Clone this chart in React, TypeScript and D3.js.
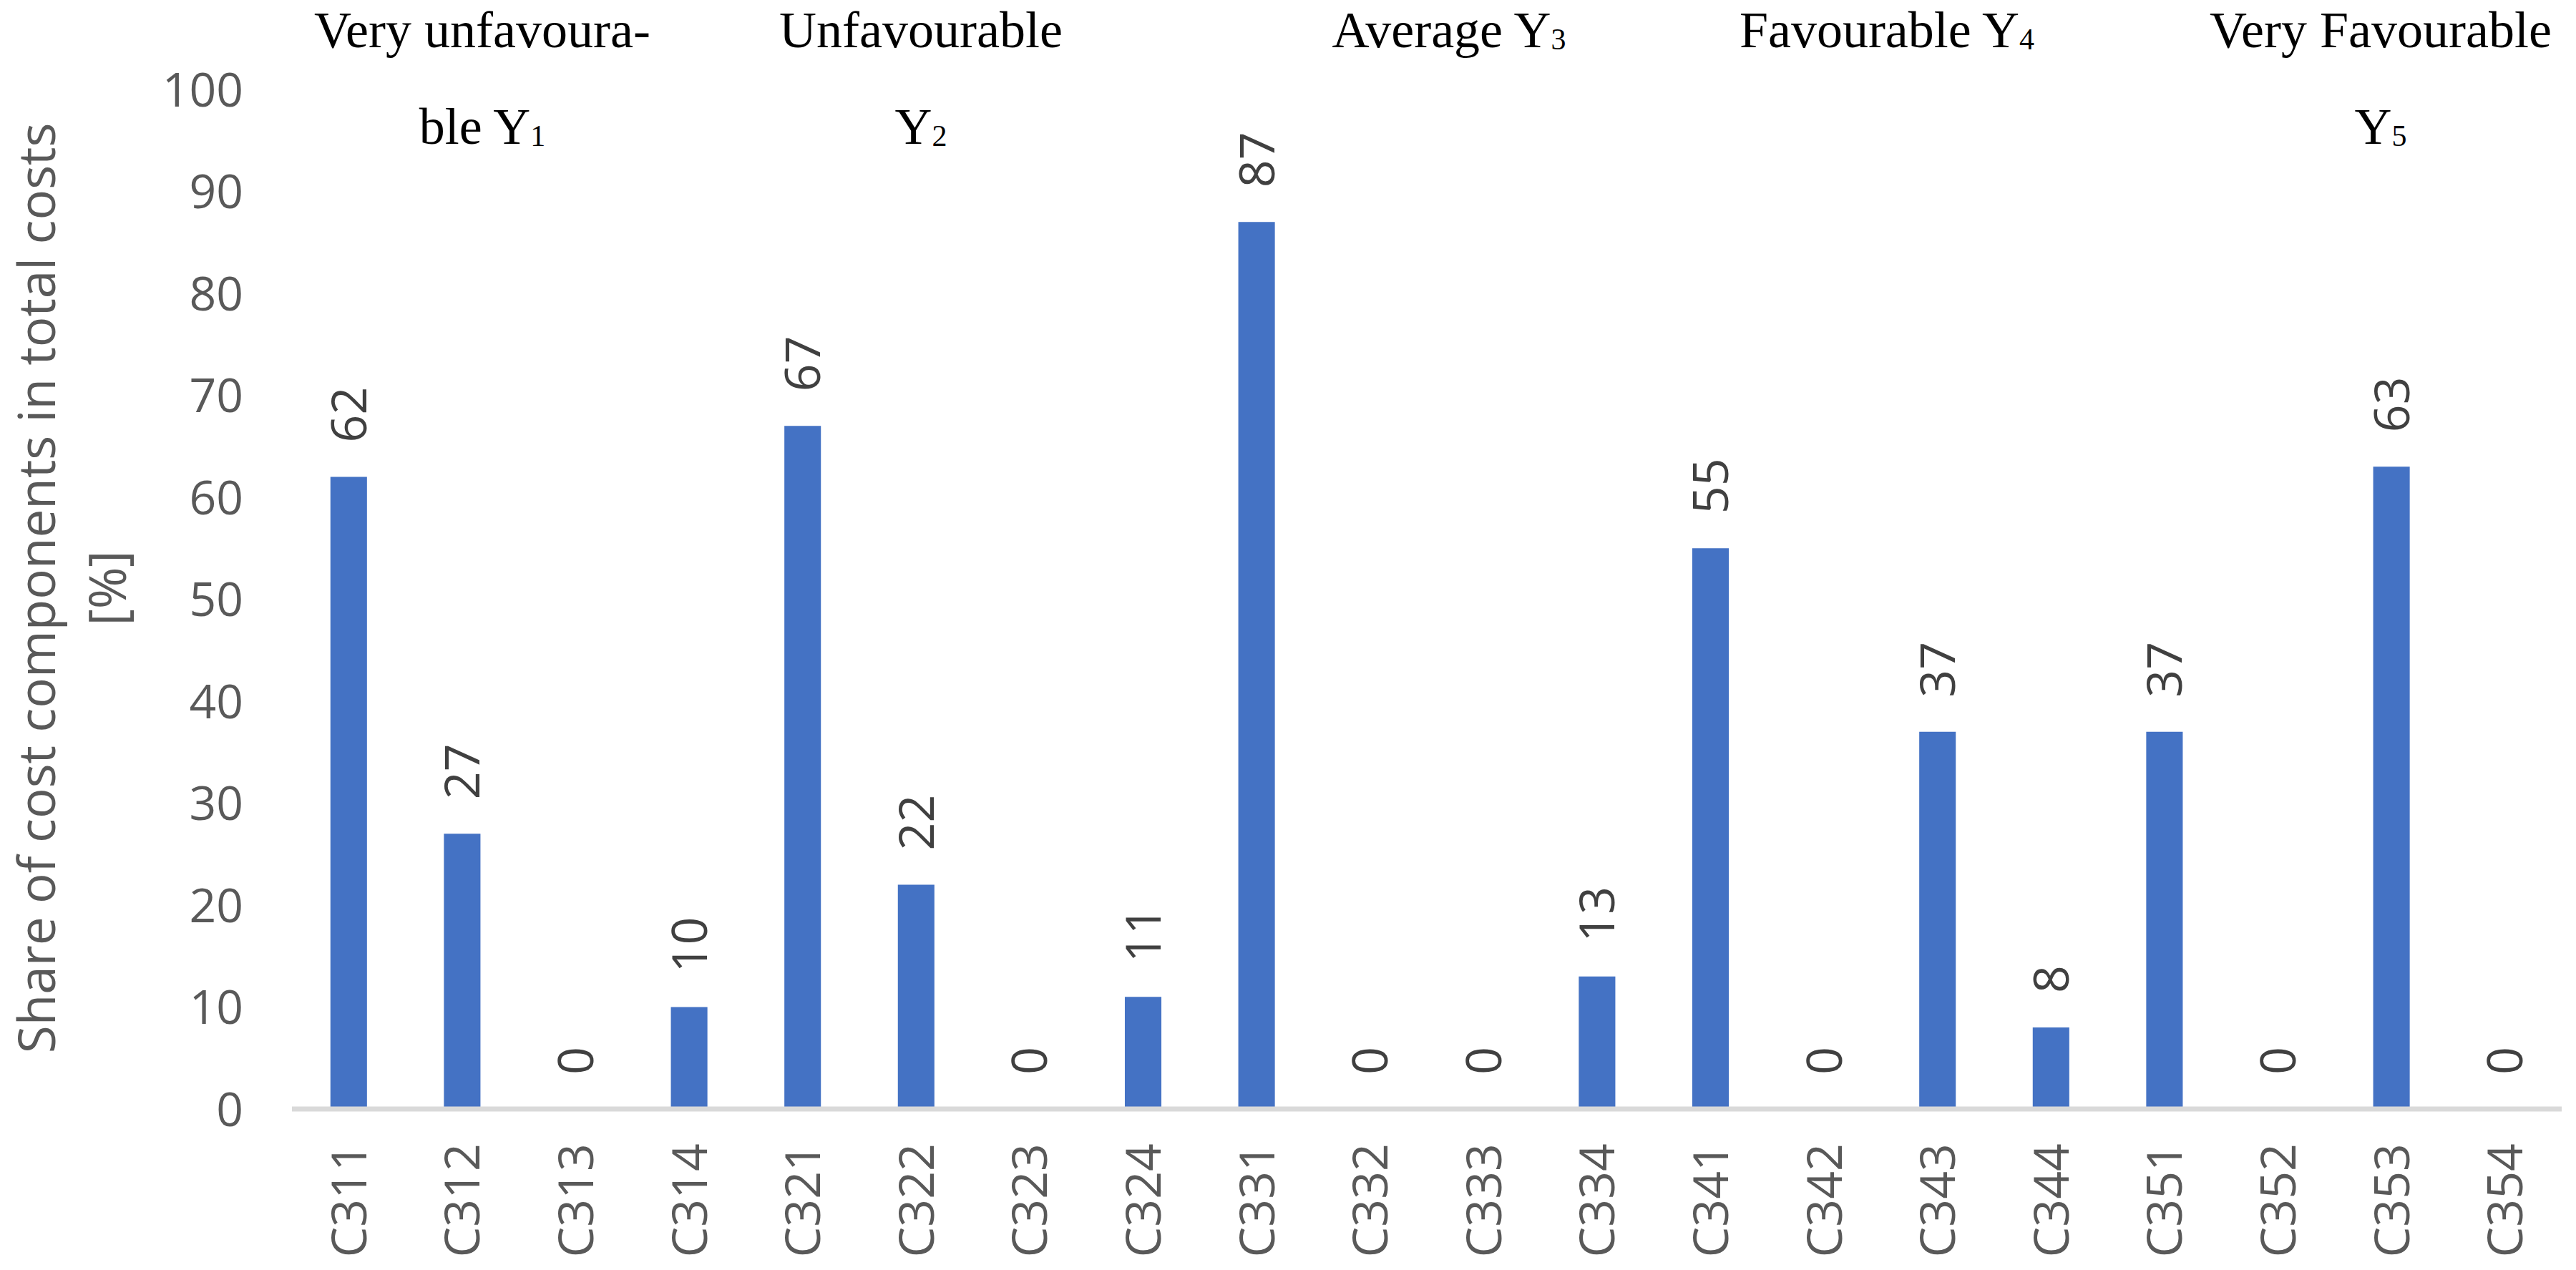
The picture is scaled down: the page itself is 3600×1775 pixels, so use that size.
import React from 'react';
import * as d3 from 'd3';

// ---- data ----
const categories = ['C311', 'C312', 'C313', 'C314', 'C321', 'C322', 'C323', 'C324', 'C331', 'C332',
  'C333', 'C334', 'C341', 'C342', 'C343', 'C344', 'C351', 'C352', 'C353', 'C354'];
const values = [62, 27, 0, 10, 67, 22, 0, 11, 87, 0, 0, 13, 55, 0, 37, 8, 37, 0, 63, 0];
const yTicks = [0, 10, 20, 30, 40, 50, 60, 70, 80, 90, 100];
const yTitleLines = ['Share of cost components in total costs', '[%]'];
// group annotation lines; "_" marks a subscript
const groupLines = [
  ['Very unfavoura-', 'ble Y_1'],
  ['Unfavourable', 'Y_2'],
  ['Average Y_3'],
  ['Favourable Y_4'],
  ['Very Favourable', 'Y_5'],
];
const groupCenters = [674, 1287, 2025, 2637, 3327];

// ---- layout ----
const W = 3600;
const H = 1775;
const SANS = "'Segoe UI', 'Open Sans', 'Noto Sans', sans-serif";
const SERIF = "'Palatino Linotype', 'Book Antiqua', 'Liberation Serif', serif";

export default function App() {
  const x = d3.scaleBand<string>()
    .domain(categories)
    .range([408, 3580])
    .paddingInner(0.678)
    .paddingOuter(0.339);
  const y = d3.scaleLinear().domain([0, 100]).range([1550, 125]);
  const bw = x.bandwidth();

  const renderLine = (s: string) => {
    const [main, sub] = s.split('_');
    return (
      <>
        {main}
        {sub !== undefined && (
          <tspan fontSize={42} dy={3}>{sub}</tspan>
        )}
      </>
    );
  };

  return (
    <svg width={W} height={H} viewBox={`0 0 ${W} ${H}`}
      style={{ position: 'absolute', left: 0, top: 0, background: '#fff' }}>
      <rect x={0} y={0} width={W} height={H} fill="#ffffff" />

      {/* y tick labels */}
      <g fontFamily={SANS} fontSize={66} fill="#595959">
        {yTicks.map(t => (
          <text key={t} x={340} y={y(t)} dy="0.36em" textAnchor="end">{t}</text>
        ))}
      </g>

      {/* y axis title */}
      <g transform={`translate(77, 822) rotate(-90)`} fontFamily={SANS} fontSize={71} fill="#595959">
        {yTitleLines.map((l, i) => (
          <text key={i} x={0} y={i * 99} textAnchor="middle">{l}</text>
        ))}
      </g>

      {/* bars */}
      <g fill="#4472C4">
        {categories.map((c, i) => (
          <rect key={c} x={x(c)!} y={y(values[i])} width={bw} height={y(0) - y(values[i])} />
        ))}
      </g>

      {/* category axis line */}
      <line x1={x.range()[0]} x2={x.range()[1]} y1={y(0)} y2={y(0)} stroke="#D9D9D9" strokeWidth={7} />

      {/* data labels */}
      <g fontFamily={SANS} fontSize={68} fill="#404040">
        {categories.map((c, i) => (
          <text key={c}
            transform={`translate(${x(c)! + bw / 2}, ${y(values[i]) - 48}) rotate(-90)`}
            dy="0.36em" textAnchor="start">{values[i]}</text>
        ))}
      </g>

      {/* category labels */}
      <g fontFamily={SANS} fontSize={68} fill="#595959">
        {categories.map(c => (
          <text key={c}
            transform={`translate(${x(c)! + bw / 2}, ${y(0) + 48}) rotate(-90)`}
            dy="0.36em" textAnchor="end">{c}</text>
        ))}
      </g>

      {/* group annotations */}
      <g fontFamily={SERIF} fontSize={72} fill="#000000">
        {groupLines.map((lines, gi) => (
          <g key={gi}>
            {lines.map((l, li) => (
              <text key={li} x={groupCenters[gi]} y={66 + li * 135} textAnchor="middle">
                {renderLine(l)}
              </text>
            ))}
          </g>
        ))}
      </g>
    </svg>
  );
}
